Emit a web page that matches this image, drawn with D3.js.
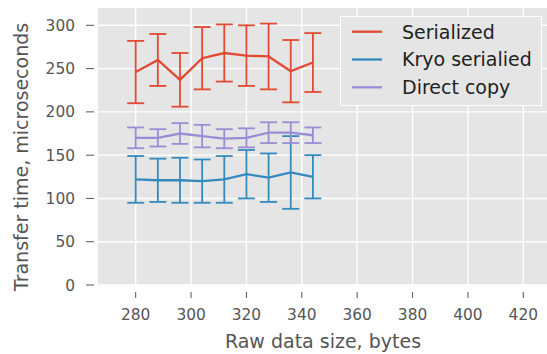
<!DOCTYPE html>
<html>
<head>
<meta charset="utf-8">
<script src="https://cdn.jsdelivr.net/npm/d3@7"></script>
<style>
  body { margin: 0; background: #fff; }
  svg { display: block; font-family: "DejaVu Sans", sans-serif; }
</style>
</head>
<body>
<div id="chart"></div>
<script>
// data sizes, bytes
const sizes = [280, 288, 296, 304, 312, 320, 328, 336, 344];

// mean transfer time, microseconds
const serialized = [246, 260, 237, 262, 268, 265, 264, 247, 257];
const serializedErr = [36, 30, 31, 36, 33, 35, 38, 36, 34];
const kryo = [122, 121, 121, 120, 122, 128, 124, 130, 125];
const kryoErr = [27, 25, 26, 25, 27, 28, 28, 42, 25];
const direct = [170, 170, 175, 172, 169, 170, 176, 176, 173];
const directErr = [12, 10, 12, 13, 11, 11, 12, 12, 9];

const xTicks = [280, 300, 320, 340, 360, 380, 400, 420];
const yTicks = [0, 50, 100, 150, 200, 250, 300];

const seriesNames = ['Serialized', 'Kryo serialied', 'Direct copy'];
const seriesColors = ['#E24A33', '#348ABD', '#988ED5'];

const svgWidth = 547, svgHeight = 354;
const plot = { left: 98, top: 8, right: 547, bottom: 285 };

const svg = d3.select('#chart').append('svg')
  .attr('width', svgWidth)
  .attr('height', svgHeight);

const xScale = d3.scaleLinear().domain([280, 420]).range([135.7, 523.3]);
const yScale = d3.scaleLinear().domain([0, 320]).range([plot.bottom, plot.top]);

// background
svg.append('rect')
  .attr('x', plot.left).attr('y', plot.top)
  .attr('width', plot.right - plot.left)
  .attr('height', plot.bottom - plot.top)
  .attr('fill', '#E5E5E5');

// grid
const grid = svg.append('g').attr('class', 'grid');
xTicks.forEach(t => {
  grid.append('line')
    .attr('x1', xScale(t)).attr('x2', xScale(t))
    .attr('y1', plot.top).attr('y2', plot.bottom)
    .attr('stroke', '#fff').attr('stroke-width', 1.4);
});
yTicks.forEach(t => {
  grid.append('line')
    .attr('x1', plot.left).attr('x2', plot.right)
    .attr('y1', yScale(t)).attr('y2', yScale(t))
    .attr('stroke', '#fff').attr('stroke-width', 1.4);
});

// tick marks and labels
const tickColor = '#555555';
yTicks.forEach(t => {
  svg.append('line')
    .attr('x1', 86).attr('x2', 94)
    .attr('y1', yScale(t)).attr('y2', yScale(t))
    .attr('stroke', tickColor).attr('stroke-width', 1);
  svg.append('text')
    .attr('x', 75).attr('y', yScale(t))
    .attr('dy', '0.36em')
    .attr('text-anchor', 'end')
    .attr('font-size', '15.4px')
    .attr('fill', tickColor)
    .text(t);
});
xTicks.forEach(t => {
  svg.append('line')
    .attr('x1', xScale(t)).attr('x2', xScale(t))
    .attr('y1', 292).attr('y2', 298)
    .attr('stroke', tickColor).attr('stroke-width', 1);
  svg.append('text')
    .attr('x', xScale(t)).attr('y', 320)
    .attr('text-anchor', 'middle')
    .attr('font-size', '15.4px')
    .attr('fill', tickColor)
    .text(t);
});

// axis labels
svg.append('text')
  .attr('x', 323).attr('y', 348)
  .attr('text-anchor', 'middle')
  .attr('font-size', '19px')
  .attr('fill', tickColor)
  .text('Raw data size, bytes');

svg.append('text')
  .attr('transform', `translate(28, 157) rotate(-90)`)
  .attr('text-anchor', 'middle')
  .attr('font-size', '19px')
  .attr('fill', tickColor)
  .text('Transfer time, microseconds');

// series with error bars
const line = d3.line()
  .x(d => xScale(d.x))
  .y(d => yScale(d.y));

function drawSeries(means, errs, color) {
  const pts = sizes.map((s, i) => ({ x: s, y: means[i], e: errs[i] }));
  const g = svg.append('g');
  g.append('path')
    .attr('d', line(pts))
    .attr('fill', 'none')
    .attr('stroke', color)
    .attr('stroke-width', 2.3);
  pts.forEach(p => {
    const cx = xScale(p.x);
    const y0 = yScale(p.y - p.e), y1 = yScale(p.y + p.e);
    g.append('line')
      .attr('x1', cx).attr('x2', cx).attr('y1', y0).attr('y2', y1)
      .attr('stroke', color).attr('stroke-width', 1.8);
    [y0, y1].forEach(yy => {
      g.append('line')
        .attr('x1', cx - 8.5).attr('x2', cx + 8.5).attr('y1', yy).attr('y2', yy)
        .attr('stroke', color).attr('stroke-width', 1.8);
    });
  });
}

drawSeries(serialized, serializedErr, seriesColors[0]);
drawSeries(kryo, kryoErr, seriesColors[1]);
drawSeries(direct, directErr, seriesColors[2]);

// legend
const legend = svg.append('g');
legend.append('rect')
  .attr('x', 340.5).attr('y', 16.5)
  .attr('width', 201).attr('height', 89)
  .attr('fill', '#E5E5E5')
  .attr('stroke', '#fff').attr('stroke-width', 1);
seriesNames.forEach((name, i) => {
  const yy = 31.7 + i * 27.8;
  legend.append('line')
    .attr('x1', 352).attr('x2', 382)
    .attr('y1', yy).attr('y2', yy)
    .attr('stroke', seriesColors[i]).attr('stroke-width', 2.3);
  legend.append('text')
    .attr('x', 402).attr('y', yy)
    .attr('dy', '0.36em')
    .attr('font-size', '19px')
    .attr('fill', '#222')
    .text(name);
});
</script>
</body>
</html>
